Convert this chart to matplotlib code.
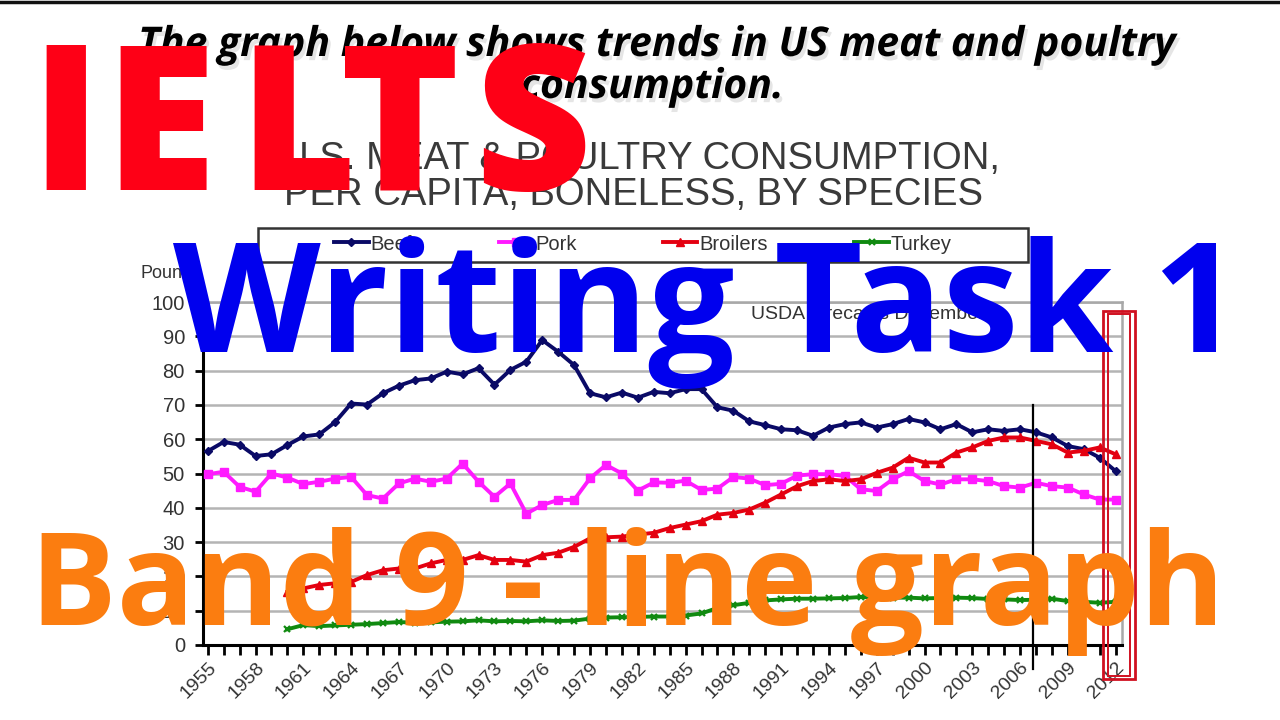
import matplotlib
matplotlib.use("Agg")
import matplotlib.pyplot as plt
import matplotlib.patheffects as pe
import matplotlib.transforms as mtransforms
from matplotlib.patches import Rectangle
from matplotlib.lines import Line2D

# ---------------- data ----------------
years = list(range(1955, 2013))
beef = [56.5, 59.2, 58.4, 55.1, 55.6, 58.3, 60.8, 61.4, 65.0, 70.4,
        70.1, 73.4, 75.6, 77.2, 77.7, 79.7, 78.9, 80.7, 75.9, 80.2,
        82.6, 88.9, 85.5, 81.6, 73.4, 72.2, 73.6, 72.1, 73.8, 73.4,
        74.6, 74.6, 69.3, 68.3, 65.2, 64.1, 62.9, 62.6, 61.0, 63.4,
        64.4, 64.9, 63.4, 64.4, 65.9, 64.9, 62.9, 64.4, 62.0, 62.9,
        62.4, 62.9, 62.0, 60.5, 58.0, 57.1, 54.6, 50.7]
pork = [49.8, 50.5, 46.1, 44.7, 50.0, 48.8, 46.9, 47.6, 48.5, 49.0,
        43.7, 42.7, 47.1, 48.5, 47.6, 48.5, 52.9, 47.6, 43.2, 47.1,
        38.3, 40.8, 42.3, 42.3, 48.6, 52.5, 50.0, 45.0, 47.4, 47.3,
        47.9, 45.2, 45.6, 49.0, 48.5, 46.6, 47.0, 49.4, 49.8, 49.8,
        49.3, 45.4, 44.9, 48.3, 50.7, 47.8, 46.8, 48.3, 48.3, 47.8,
        46.3, 45.9, 47.3, 46.3, 45.9, 43.9, 42.4, 42.4]
broiler_years = list(range(1960, 2013))
broilers = [15.5, 16.5, 17.5, 18.0, 18.4, 20.4, 21.8, 22.3, 22.3, 23.8,
            24.8, 24.8, 26.2, 24.8, 24.8, 24.3, 26.2, 26.9, 28.6, 31.1,
            31.4, 31.6, 32.2, 32.7, 34.1, 35.1, 36.1, 38.0, 38.5, 39.5,
            41.5, 43.9, 46.3, 47.8, 48.3, 47.8, 48.3, 50.2, 51.7, 54.6,
            53.2, 53.2, 56.1, 57.6, 59.5, 60.5, 60.5, 59.5, 58.5, 56.1,
            56.6, 57.6, 55.6]
turkey_years = list(range(1960, 2013))
turkey = [4.6, 5.8, 5.5, 5.7, 5.9, 6.1, 6.4, 6.7, 6.5, 6.6,
          6.8, 6.9, 7.2, 6.9, 7.0, 6.9, 7.2, 7.0, 7.1, 7.7,
          8.0, 8.1, 8.2, 8.3, 8.3, 8.6, 9.2, 10.8, 11.6, 12.3,
          13.0, 13.3, 13.5, 13.5, 13.6, 13.7, 14.0, 13.9, 13.8, 13.8,
          13.6, 13.7, 13.8, 13.7, 13.4, 13.3, 13.1, 13.2, 13.5, 12.8,
          12.6, 12.3, 12.6]
series_names = ["Beef", "Pork", "Broilers", "Turkey"]
xtick_years = list(range(1955, 2013, 3))
yticks = list(range(0, 101, 10))

W, H = 1280, 720
fig = plt.figure(figsize=(12.8, 7.2), dpi=100)
fig.patch.set_facecolor("white")

def fx(x):
    return x / W

def fy(y):
    return 1 - y / H

TXT = "#333333"

# ---------------- axes ----------------
ax = fig.add_axes([fx(203), fy(645), fx(1122) - fx(203), fy(302) - fy(645)])
ax.set_xlim(1954.7, 2012.4)
ax.set_ylim(0, 100)

lw = 2.8
ax.plot(years, beef, color="#0a0a66", lw=lw, marker="D", ms=4.5, zorder=5)
ax.plot(years, pork, color="#ff1aff", lw=lw, marker="s", ms=5.5, zorder=4)
ax.plot(broiler_years, broilers, color="#e40010", lw=lw, marker="^", ms=5.5, zorder=6)
ax.plot(turkey_years, turkey, color="#108a10", lw=lw, marker="x", ms=5, mew=1.6, zorder=4)

ax.set_yticks(yticks)
ax.set_xticks(years, minor=True)
ax.set_xticks(xtick_years)
ax.set_xticklabels([str(y) for y in xtick_years], rotation=45, ha="right",
                   rotation_mode="anchor", fontsize=14, color=TXT,
                   family="Liberation Sans")
ax.set_yticklabels([str(v) for v in yticks], fontsize=14.5, color=TXT,
                   family="Liberation Sans")
shift = mtransforms.ScaledTranslation(18 / 100, -6 / 100, fig.dpi_scale_trans)
for lab in ax.get_xticklabels():
    lab.set_transform(lab.get_transform() + shift)
ax.tick_params(axis="x", which="both", length=7, width=2, direction="out",
               color="black", pad=3)
ax.tick_params(axis="y", length=6, width=2, direction="out", color="black", pad=7)
ax.yaxis.grid(True, color="#b4b4b4", lw=1.8)
ax.set_axisbelow(True)
for s in ["top", "right"]:
    ax.spines[s].set_color("#a8a8a8")
    ax.spines[s].set_linewidth(1.8)
for s in ["left", "bottom"]:
    ax.spines[s].set_color("black")
    ax.spines[s].set_linewidth(2.2)

# forecast divider and highlight box
ax.plot([2006.8, 2006.8], [-7, 70], color="black", lw=1.6, clip_on=False, zorder=7)
ax.add_patch(Rectangle((2011.2, -10), 2.0, 107.5, fill=False, ec="#d01020",
                       lw=2, clip_on=False, zorder=8))
ax.add_patch(Rectangle((2011.5, -9), 1.4, 105.5, fill=False, ec="#d01020",
                       lw=1.4, clip_on=False, zorder=8))

ax.text(1989.1, 96.5, "USDA forecasts December", fontsize=14, color=TXT,
        family="Liberation Sans", va="center", ha="left")

# ---------------- legend ----------------
fig.patches.append(Rectangle((fx(258), fy(262)), fx(1028) - fx(258), fy(228) - fy(262),
                             transform=fig.transFigure, fill=False, ec="#333333",
                             lw=1.8))
handles = [Line2D([], [], color="#0a0a66", lw=lw, marker="D", ms=4.5),
           Line2D([], [], color="#ff1aff", lw=lw, marker="s", ms=5.5),
           Line2D([], [], color="#e40010", lw=lw, marker="^", ms=5.5),
           Line2D([], [], color="#108a10", lw=lw, marker="x", ms=5, mew=1.6)]
fig.legend(handles, series_names, loc="center", bbox_to_anchor=(fx(643), fy(244)),
           ncol=4, frameon=False, handlelength=1.7, handletextpad=0.1,
           columnspacing=4.3, prop={"family": "Liberation Sans", "size": 14.5},
           labelcolor=TXT)

fig.text(fx(140), fy(278), "Pounds", fontsize=13, color=TXT,
         family="Liberation Sans", ha="left", va="baseline")

# ---------------- chart title ----------------
fig.text(fx(640), fy(169), "U.S. MEAT & POULTRY CONSUMPTION,", fontsize=27.5,
         color="#3a3a3a", family="Liberation Sans", ha="center", va="baseline")
fig.text(fx(634), fy(205), "PER CAPITA, BONELESS, BY SPECIES", fontsize=27.5,
         color="#3a3a3a", family="Liberation Sans", ha="center", va="baseline")

# ---------------- question text ----------------
shadow = [pe.withSimplePatchShadow(offset=(2, -3), shadow_rgbFace="#999999", alpha=0.25)]
fig.text(fx(657), fy(56), "The graph below shows trends in US meat and poultry",
         fontsize=29.5, fontweight="bold", fontstyle="italic", family="Open Sans",
         color="black", ha="center", va="baseline", path_effects=shadow)
fig.text(fx(652), fy(98), "consumption.", fontsize=29.5, fontweight="bold",
         fontstyle="italic", family="Open Sans", color="black", ha="center",
         va="baseline", path_effects=shadow)

# top border line
fig.lines.append(Line2D([0, 1], [fy(1.5), fy(1.5)], transform=fig.transFigure,
                        color="#111111", lw=2.5))

# ---------------- overlay titles ----------------
ielts_letters = ["I", "E", "L", "T", "S"]
ielts_left = [30, 104, 238, 340, 474]
for ch, xl in zip(ielts_letters, ielts_left):
    fig.text(fx(xl), fy(190), ch, fontsize=146, fontweight=800,
             family="Open Sans", color="#fe0016", ha="left", va="baseline", zorder=20)
fig.text(fx(173), fy(352), "Writing Task 1", fontsize=110, fontweight="bold",
         family="Open Sans", color="#0000ee", ha="left", va="baseline", zorder=20)
fig.text(fx(30), fy(625), "Band 9 - line graph", fontsize=93, fontweight="bold",
         family="Open Sans", color="#fb7d10", ha="left", va="baseline", zorder=20)

fig.savefig("out.png", dpi=100)
